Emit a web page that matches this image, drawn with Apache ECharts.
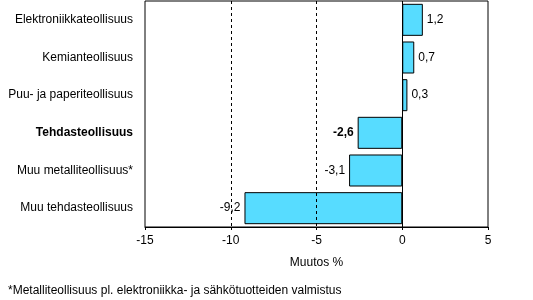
<!DOCTYPE html>
<html><head><meta charset="utf-8">
<script src="https://cdn.jsdelivr.net/npm/echarts@6/dist/echarts.min.js"></script>
<style>html,body{margin:0;padding:0;background:#fff}#c{width:533px;height:300px}</style>
</head><body><div id="c"></div>
<script>
const categories = ['Elektroniikkateollisuus','Kemianteollisuus','Puu- ja paperiteollisuus','Tehdasteollisuus','Muu metalliteollisuus*','Muu tehdasteollisuus'];
const values = [1.2, 0.7, 0.3, -2.6, -3.1, -9.2];
const boldCategory = 'Tehdasteollisuus';
const xTicks = [-15, -10, -5, 0, 5];
const dashedLines = [-10, -5];
const axisName = 'Muutos %';
const footnote = '*Metalliteollisuus pl. elektroniikka- ja sähkötuotteiden valmistus';

const font = 'Liberation Sans, Arial, sans-serif';
const chart = echarts.init(document.getElementById('c'));
const fmt = v => String(v).replace('.', ',');
chart.setOption({
  animation: false,
  textStyle: {fontFamily: font, color: '#000'},
  grid: {left: 145, right: 45, top: 1, bottom: 73, show: true, borderColor: '#000', borderWidth: 1, backgroundColor: 'transparent'},
  xAxis: {
    type: 'value', min: xTicks[0], max: xTicks[xTicks.length-1], interval: 5,
    axisLine: {show: true, lineStyle: {color: '#000'}},
    axisTick: {show: true, length: 3, lineStyle: {color: '#000'}},
    axisLabel: {color: '#000', fontSize: 12, fontFamily: font, margin: 8},
    splitLine: {show: false},
    name: axisName, nameLocation: 'middle', nameGap: 30,
    nameTextStyle: {color: '#000', fontSize: 12, fontFamily: font}
  },
  yAxis: {
    type: 'category', data: categories, inverse: true,
    axisLine: {show: false}, axisTick: {show: false},
    axisLabel: {
      margin: 12, fontSize: 12, color: '#000', fontFamily: font,
      formatter: v => v === boldCategory ? '{b|' + v + '}' : v,
      rich: {b: {fontWeight: 'bold', fontSize: 12, fontFamily: font, color: '#000'}}
    }
  },
  series: [{
    type: 'bar', barWidth: '85%',
    data: values.map((v, i) => ({
      value: v,
      label: {
        show: true,
        position: v >= 0 ? 'right' : 'left',
        distance: 4,
        fontWeight: categories[i] === boldCategory ? 'bold' : 'normal',
        formatter: p => fmt(p.value),
        color: '#000', fontSize: 12, fontFamily: font
      }
    })),
    itemStyle: {color: '#57DCFF', borderColor: '#000', borderWidth: 1},
    markLine: {
      silent: true, symbol: 'none', label: {show: false}, animation: false,
      data: dashedLines.map(x => ({xAxis: x, lineStyle: {type: [3, 3], color: '#000', width: 1}}))
        .concat([{xAxis: 0, lineStyle: {type: 'solid', color: '#000', width: 1}}])
    }
  }],
  graphic: [{
    type: 'text', left: 8, top: 285,
    style: {text: footnote, font: '12px ' + font, fill: '#000'}
  }]
});
</script></body></html>
